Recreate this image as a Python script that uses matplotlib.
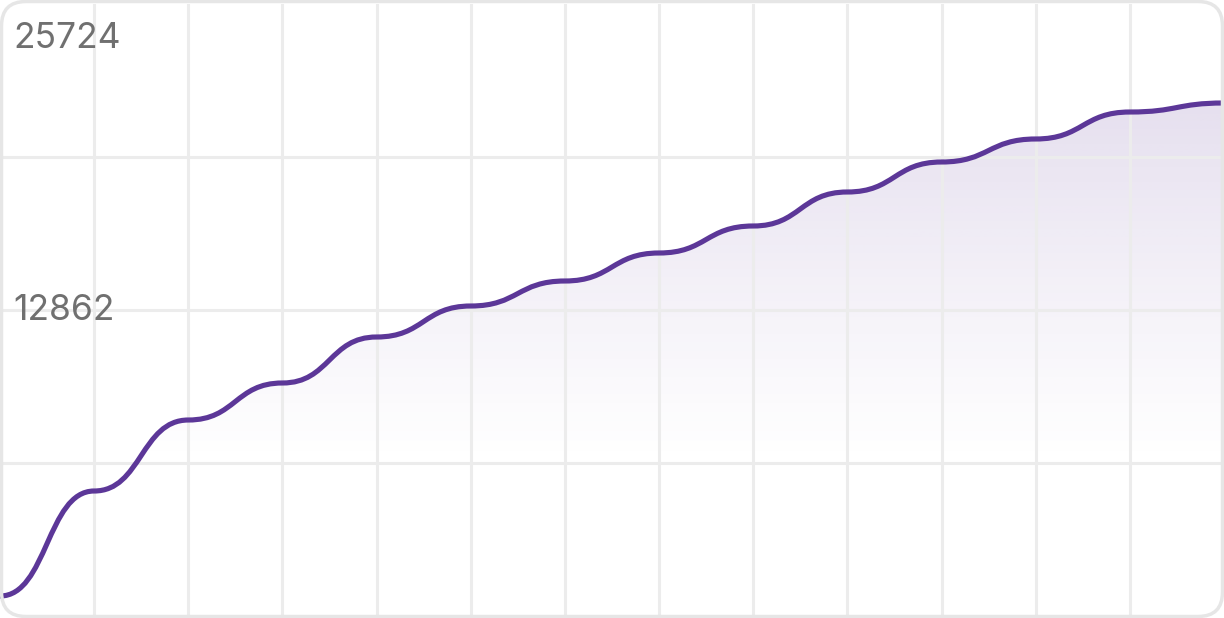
import numpy as np
import matplotlib
matplotlib.use("Agg")
import matplotlib.pyplot as plt
from matplotlib.path import Path
from matplotlib.patches import PathPatch, FancyBboxPatch

# data
x_vals = list(range(14))
y_vals = [840, 5254, 8238, 9794, 11727, 13030, 14081, 15258, 16393, 17822, 19083, 20050, 21184, 21563]
y_max = 25724
y_labels = ["25724", "12862"]
y_label_vals = [25724, 12862]

line_color = "#5c3798"
grid_color = "#ececec"
text_color = "#707070"

W, H = 1224, 618
fig = plt.figure(figsize=(W / 100, H / 100), dpi=100)
fig.patch.set_facecolor("white")
ax = fig.add_axes([0, 2 / H, 1, 612 / H])
ax.set_xlim(0, len(x_vals) - 1)
ax.set_ylim(0, y_max)
ax.axis("off")

# bump-x bezier path through data points
verts = [(x_vals[0], y_vals[0])]
codes = [Path.MOVETO]
for i in range(1, len(x_vals)):
    xm = (x_vals[i - 1] + x_vals[i]) / 2
    verts += [(xm, y_vals[i - 1]), (xm, y_vals[i]), (x_vals[i], y_vals[i])]
    codes += [Path.CURVE4] * 3
line_path = Path(verts, codes)

# fill area path
fverts = verts + [(x_vals[-1], 0), (x_vals[0], 0), (x_vals[0], y_vals[0])]
fcodes = codes + [Path.LINETO, Path.LINETO, Path.CLOSEPOLY]
fill_path = Path(fverts, fcodes)

# gradient image
ny = 400
vv = np.linspace(y_max, 0, ny)
lo, hi = 6431, max(y_vals)
alpha = 0.17 * np.clip((vv - lo) / (hi - lo), 0, 1) ** 1.1
rgba = np.zeros((ny, 2, 4))
rgba[..., 0] = 0x6a / 255
rgba[..., 1] = 0x45 / 255
rgba[..., 2] = 0xa0 / 255
rgba[..., 3] = alpha[:, None]
im = ax.imshow(rgba, extent=[x_vals[0], x_vals[-1], 0, y_max], aspect="auto",
               interpolation="bilinear", zorder=1)
clip = PathPatch(fill_path, transform=ax.transData, facecolor="none", edgecolor="none")
ax.add_patch(clip)
im.set_clip_path(clip)

# grid
for gx in x_vals[1:-1]:
    ax.axvline(gx, color=grid_color, lw=2.2, zorder=2)
for gy in [y_max / 4, y_max / 2, 3 * y_max / 4]:
    ax.axhline(gy, color=grid_color, lw=2.2, zorder=2)

# line
ax.add_patch(PathPatch(line_path, facecolor="none", edgecolor=line_color, lw=3.7,
                       capstyle="round", joinstyle="round", zorder=3))

# labels
fig.text(13 / W, 1 - 39 / H, y_labels[0], fontsize=25.5, color=text_color,
         family=["Inter", "DejaVu Sans"], va="center", ha="left", zorder=5)
fig.text(13 / W, 1 - 310 / H, y_labels[1], fontsize=25.5, color=text_color,
         family=["Inter", "DejaVu Sans"], va="center", ha="left", zorder=5)

# rounded border
border = FancyBboxPatch((1.5 / W, 1.5 / H), 1 - 3 / W, 1 - 3 / H,
                        boxstyle="round,pad=0,rounding_size=0.02",
                        transform=fig.transFigure, facecolor="none",
                        edgecolor="#e6e6e6", lw=2.5, zorder=10,
                        mutation_aspect=W / H)
fig.patches.append(border)

fig.savefig("out.png", dpi=100, facecolor="white")
